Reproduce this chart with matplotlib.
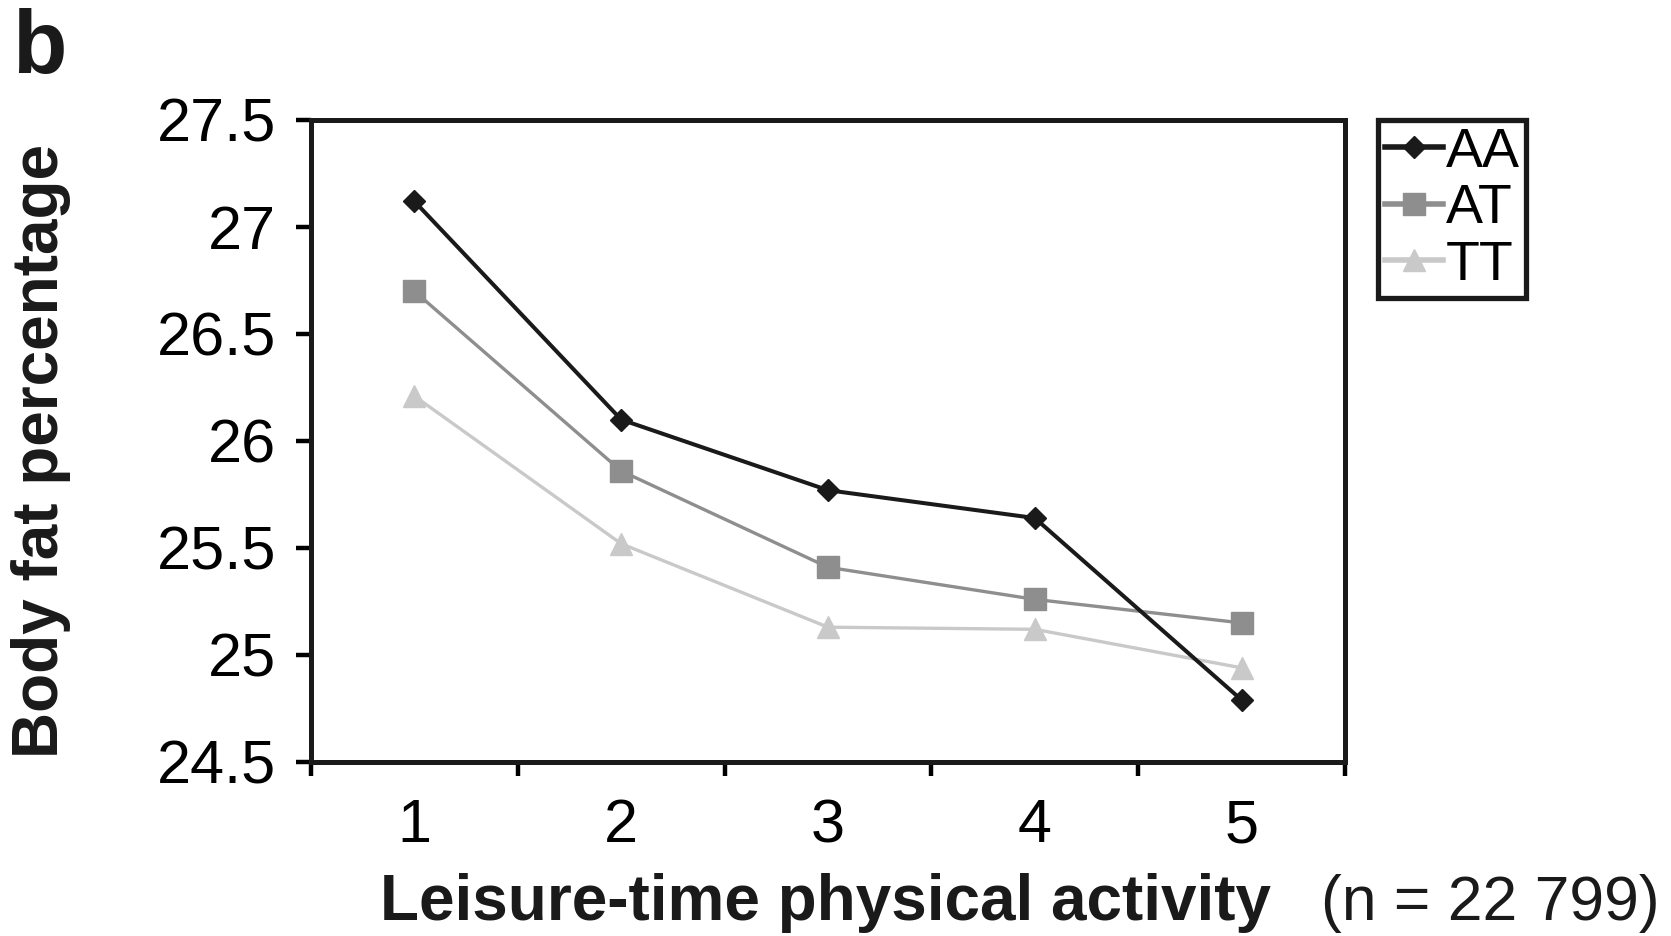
import matplotlib
matplotlib.use("Agg")
import matplotlib.pyplot as plt
from matplotlib.ticker import FixedLocator, FuncFormatter

plt.rcParams['font.family'] = ['Liberation Sans', 'DejaVu Sans']

# ========== data ==========
activity = [1, 2, 3, 4, 5]
aa = [27.12, 26.10, 25.77, 25.64, 24.79]
at = [26.70, 25.86, 25.41, 25.26, 25.15]
tt = [26.21, 25.52, 25.13, 25.12, 24.94]
genotypes = ["AA", "AT", "TT"]
y_ticks = [24.5, 25, 25.5, 26, 26.5, 27, 27.5]

fig = plt.figure(figsize=(16.71, 9.36), dpi=100)
ax = fig.add_axes([0.1861, 0.1859, 0.6188, 0.6859])

ax.plot(activity, aa, color='#1a1a1a', lw=2.9, marker='D', ms=11.5,
        label=genotypes[0], zorder=4)
ax.plot(activity, at, color='#8e8e8e', lw=2.4, marker='s', ms=16,
        label=genotypes[1], zorder=3)
ax.plot(activity, tt, color='#c9c9c9', lw=2.4, marker='^', ms=16,
        label=genotypes[2], zorder=2)

ax.set_xlim(0.5, 5.5)
ax.set_ylim(24.5, 27.5)

# category axis: ticks on the boundaries, labels in the middle
ax.xaxis.set_major_locator(FixedLocator([0.5, 1.5, 2.5, 3.5, 4.5, 5.5]))
ax.xaxis.set_major_formatter(FuncFormatter(lambda v, p: ""))
ax.xaxis.set_minor_locator(FixedLocator(activity))
ax.xaxis.set_minor_formatter(FuncFormatter(lambda v, p: "%d" % v))
ax.tick_params(axis='x', which='major', direction='out', length=10, width=3.2)
ax.tick_params(axis='x', which='minor', length=0, pad=26, labelsize=44)

ax.yaxis.set_major_locator(FixedLocator(y_ticks))
ax.yaxis.set_major_formatter(FuncFormatter(lambda v, p: "%g" % v))
ax.tick_params(axis='y', direction='out', length=11, width=3.2, pad=14, labelsize=44)

for sp in ax.spines.values():
    sp.set_linewidth(3.6)
    sp.set_color('#1a1a1a')

leg = fig.legend(loc='upper left', bbox_to_anchor=(0.8246, 0.8718),
                 fontsize=40, frameon=True, fancybox=False, edgecolor='#1a1a1a',
                 framealpha=1, handlelength=1.05, handletextpad=0.05,
                 labelspacing=0.08, borderpad=0.12, borderaxespad=0)
leg.get_frame().set_linewidth(3.8)
for ln in leg.get_lines():
    ln.set_linewidth(4)

fig.text(0.0245, 0.518, "Body fat percentage", rotation=90, ha='center',
         va='center', fontsize=46, fontweight='bold', color='#1a1a1a')
fig.text(380 / 1671, 0.017, "Leisure-time physical activity", ha='left',
         va='baseline', fontsize=46, fontweight='bold', color='#1a1a1a')
fig.text(1321 / 1671, 0.017, "(n = 22 799)", ha='left', va='baseline',
         fontsize=45, color='#1a1a1a')
fig.text(0.0075, 0.922, "b", ha='left', va='baseline', fontsize=64,
         fontweight='bold', color='#1a1a1a')

fig.savefig('out.png', dpi=100)
